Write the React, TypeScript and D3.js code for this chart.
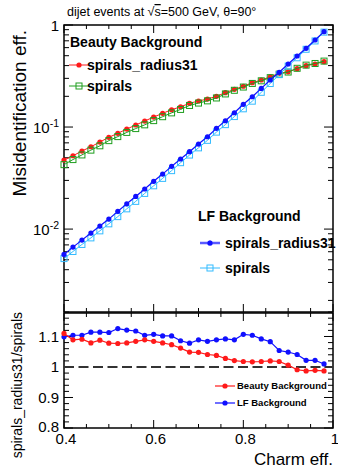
import * as d3 from 'd3';
import * as React from 'react';

const charmEff = [0.4, 0.42, 0.44, 0.46, 0.48, 0.5, 0.52, 0.54, 0.56, 0.58, 0.6, 0.62, 0.64, 0.66, 0.68, 0.7, 0.72, 0.74, 0.76, 0.78, 0.8, 0.82, 0.84, 0.86, 0.88, 0.9, 0.92, 0.94, 0.96, 0.98];

const beautyRadius31 = [0.0475, 0.0523, 0.0582, 0.0641, 0.0713, 0.0793, 0.0868, 0.0956, 0.1047, 0.1145, 0.1253, 0.1363, 0.1478, 0.158, 0.1708, 0.18, 0.188, 0.2, 0.217, 0.234, 0.251, 0.272, 0.289, 0.311, 0.336, 0.348, 0.373, 0.399, 0.415, 0.437];
const beautySpirals = [0.0428, 0.048, 0.0533, 0.0594, 0.0655, 0.0736, 0.0806, 0.0886, 0.0966, 0.1051, 0.1156, 0.1263, 0.1377, 0.1488, 0.1628, 0.1718, 0.1806, 0.1927, 0.2111, 0.2292, 0.2466, 0.2675, 0.2839, 0.3049, 0.3301, 0.3459, 0.3764, 0.4043, 0.4196, 0.4428];
const lfRadius31 = [0.00565, 0.00666, 0.0078, 0.00914, 0.0107, 0.01253, 0.01492, 0.0177, 0.0209, 0.0247, 0.0294, 0.0346, 0.0412, 0.0486, 0.0573, 0.0681, 0.0803, 0.0971, 0.1153, 0.138, 0.167, 0.198, 0.239, 0.289, 0.344, 0.415, 0.497, 0.591, 0.713, 0.86];
const lfSpirals = [0.00514, 0.00603, 0.00707, 0.0082, 0.00961, 0.01126, 0.01325, 0.01579, 0.01869, 0.02237, 0.02656, 0.0314, 0.03739, 0.04475, 0.05315, 0.06253, 0.07408, 0.08916, 0.1056, 0.1267, 0.1509, 0.1793, 0.2189, 0.2669, 0.3264, 0.3956, 0.4774, 0.5783, 0.6977, 0.8515];

const beautyRatio = [1.11, 1.089, 1.091, 1.079, 1.088, 1.078, 1.077, 1.079, 1.084, 1.089, 1.084, 1.079, 1.073, 1.062, 1.049, 1.048, 1.041, 1.038, 1.028, 1.021, 1.018, 1.017, 1.018, 1.02, 1.018, 1.006, 0.991, 0.987, 0.989, 0.987];
const lfRatio = [1.099, 1.104, 1.104, 1.114, 1.114, 1.113, 1.126, 1.121, 1.118, 1.104, 1.107, 1.102, 1.102, 1.086, 1.078, 1.089, 1.084, 1.089, 1.092, 1.089, 1.107, 1.104, 1.092, 1.083, 1.054, 1.049, 1.041, 1.022, 1.022, 1.01];

const xTicks = [0.4, 0.6, 0.8, 1];
const xTickLabels = ['0.4', '0.6', '0.8', '1'];
const ratioTicks = [0.8, 0.9, 1, 1.1];
const ratioTickLabels = ['0.8', '0.9', '1', '1.1'];
const logTicks = [1, 0.1, 0.01];

const FONT = '"Liberation Sans", Arial, Helvetica, sans-serif';

const App = () => {
  const ref = React.useRef<SVGSVGElement | null>(null);

  React.useEffect(() => {
    if (!ref.current) return;
    const svg = d3.select(ref.current);
    svg.selectAll('*').remove();

    const left = 64;
    const right = 333;
    const top = { y0: 25, y1: 312 };
    const bot = { y0: 313, y1: 428 };

    const x = d3.scaleLinear().domain([0.4, 1]).range([left, right]);
    const yLog = d3.scaleLog().domain([0.00154, 1]).range([top.y1, top.y0]);
    const yRatio = d3.scaleLinear().domain([0.8, 1.177]).range([bot.y1, bot.y0]);

    const g = svg.append('g').style('font-family', FONT);

    // frames
    [top, bot].forEach((p) => {
      g.append('rect')
        .attr('x', left)
        .attr('y', p.y0)
        .attr('width', right - left)
        .attr('height', p.y1 - p.y0)
        .attr('fill', 'none')
        .attr('stroke', '#000')
        .attr('stroke-width', 1.5);
    });

    // x ticks, both pads, top and bottom edges
    const xMinor = d3.range(0.4, 1.0001, 0.05);
    [top, bot].forEach((p) => {
      xMinor.forEach((v) => {
        const major = xTicks.some((t) => Math.abs(t - v) < 1e-6);
        const len = major ? 8 : 4;
        const px = x(v);
        g.append('line').attr('x1', px).attr('x2', px).attr('y1', p.y1).attr('y2', p.y1 - len).attr('stroke', '#000');
        g.append('line').attr('x1', px).attr('x2', px).attr('y1', p.y0).attr('y2', p.y0 + len).attr('stroke', '#000');
      });
    });

    // log y ticks
    const logMinor: number[] = [];
    [0.001, 0.01, 0.1].forEach((dec) => {
      for (let k = 1; k <= 9; k++) logMinor.push(dec * k);
    });
    logMinor.push(1);
    logMinor
      .filter((v) => v >= 0.00154 && v <= 1.0001)
      .forEach((v) => {
        const major = logTicks.some((t) => Math.abs(t - v) < 1e-9);
        const len = major ? 9 : 5;
        const py = yLog(v);
        g.append('line').attr('x1', left).attr('x2', left + len).attr('y1', py).attr('y2', py).attr('stroke', '#000');
        g.append('line').attr('x1', right).attr('x2', right - len).attr('y1', py).attr('y2', py).attr('stroke', '#000');
      });

    // ratio y ticks
    d3.range(0.8, 1.1801, 0.02).forEach((v) => {
      const major = ratioTicks.some((t) => Math.abs(t - v) < 1e-6);
      const len = major ? 9 : 5;
      const py = yRatio(v);
      g.append('line').attr('x1', left).attr('x2', left + len).attr('y1', py).attr('y2', py).attr('stroke', '#000');
      g.append('line').attr('x1', right).attr('x2', right - len).attr('y1', py).attr('y2', py).attr('stroke', '#000');
    });

    // log tick labels
    g.append('text').attr('x', 59).attr('y', yLog(1) + 6).attr('text-anchor', 'end').attr('font-size', 15).text('1');
    [
      [0.1, '-1'],
      [0.01, '-2'],
    ].forEach(([v, ex]) => {
      const t = g
        .append('text')
        .attr('x', 59)
        .attr('y', yLog(v as number) + 6)
        .attr('text-anchor', 'end')
        .attr('font-size', 15);
      t.append('tspan').text('10');
      t.append('tspan').attr('dy', -6).attr('font-size', 10.5).text(ex as string);
    });

    // ratio tick labels
    ratioTicks.forEach((v, i) => {
      g.append('text')
        .attr('x', 59)
        .attr('y', yRatio(v) + (v === 0.8 ? 3.5 : 5.5))
        .attr('text-anchor', 'end')
        .attr('font-size', 15)
        .text(ratioTickLabels[i]);
    });

    // x tick labels
    xTicks.forEach((v, i) => {
      g.append('text')
        .attr('x', x(v) + 2)
        .attr('y', 444)
        .attr('text-anchor', 'middle')
        .attr('font-size', 15)
        .text(xTickLabels[i]);
    });

    // axis titles
    g.append('text').attr('x', 333).attr('y', 465).attr('text-anchor', 'end').attr('font-size', 17).text('Charm eff.');
    g.append('text')
      .attr('transform', 'translate(26,30) rotate(-90)')
      .attr('text-anchor', 'end')
      .attr('font-size', 19)
      .text('Misidentification eff.');
    g.append('text')
      .attr('transform', 'translate(22,312) rotate(-90)')
      .attr('text-anchor', 'end')
      .attr('font-size', 14)
      .text('spirals_radius31/spirals');

    // title
    const title = g.append('text').attr('x', 67).attr('y', 16).attr('font-size', 12.5);
    title.append('tspan').text('dijet events at ');
    title.append('tspan').text('\u221A');
    title.append('tspan').style('text-decoration', 'overline').text('s');
    title.append('tspan').text('=500 GeV, \u03B8=90\u00B0');

    const drawMarker = (cx: number, cy: number, color: string, marker: 'circle' | 'square') => {
      if (marker === 'circle') {
        g.append('circle').attr('cx', cx).attr('cy', cy).attr('r', 2.6).attr('fill', color);
      } else {
        g.append('rect')
          .attr('x', cx - 3)
          .attr('y', cy - 3)
          .attr('width', 6)
          .attr('height', 6)
          .attr('fill', 'none')
          .attr('stroke', color)
          .attr('stroke-width', 1);
      }
    };

    const drawSeries = (
      vals: number[],
      y: (v: number) => number,
      color: string,
      marker: 'circle' | 'square',
      lw: number,
    ) => {
      const line = d3
        .line<number>()
        .x((_, i) => x(charmEff[i]))
        .y((d) => y(d));
      g.append('path').attr('d', line(vals)).attr('fill', 'none').attr('stroke', color).attr('stroke-width', lw);
      vals.forEach((d, i) => drawMarker(x(charmEff[i]), y(d), color, marker));
    };

    const red = '#ff1a1a';
    const green = '#1e9e1e';
    const blue = '#1010ff';
    const cyan = '#33bbff';

    drawSeries(beautyRadius31, yLog, red, 'circle', 1);
    drawSeries(beautySpirals, yLog, green, 'square', 1);
    drawSeries(lfSpirals, yLog, cyan, 'square', 1);
    drawSeries(lfRadius31, yLog, blue, 'circle', 1.2);

    const legItem = (lx: number, ly: number, color: string, marker: 'circle' | 'square', label: string, lw: number, fs: number, tx: number) => {
      g.append('line').attr('x1', lx).attr('x2', lx + 20).attr('y1', ly).attr('y2', ly).attr('stroke', color).attr('stroke-width', lw);
      drawMarker(lx + 10, ly, color, marker);
      g.append('text')
        .attr('x', tx)
        .attr('y', ly + fs * 0.36)
        .attr('font-size', fs)
        .attr('font-weight', 'bold')
        .text(label);
    };

    // upper legends
    g.append('text').attr('x', 70).attr('y', 47).attr('font-size', 14).attr('font-weight', 'bold').text('Beauty Background');
    legItem(69, 65, red, 'circle', 'spirals_radius31', 1, 14, 87);
    legItem(69, 86, green, 'square', 'spirals', 1, 14, 87);

    g.append('text').attr('x', 198).attr('y', 221).attr('font-size', 14).attr('font-weight', 'bold').text('LF Background');
    legItem(200, 243, '#5a5aff', 'circle', 'spirals_radius31', 2.5, 14, 225);
    g.append('circle').attr('cx', 210).attr('cy', 243).attr('r', 2.6).attr('fill', blue);
    legItem(200, 268, cyan, 'square', 'spirals', 1, 14, 225);

    // ratio pad
    g.append('line')
      .attr('x1', left)
      .attr('x2', right)
      .attr('y1', yRatio(1))
      .attr('y2', yRatio(1))
      .attr('stroke', '#333')
      .attr('stroke-width', 2)
      .attr('stroke-dasharray', '10,4.5');

    drawSeries(lfRatio, yRatio, blue, 'circle', 1.2);
    drawSeries(beautyRatio, yRatio, red, 'circle', 1.2);

    legItem(215, 386, red, 'circle', 'Beauty Background', 1.2, 9.5, 237);
    legItem(215, 403, blue, 'circle', 'LF Background', 1.2, 9.5, 237);
  }, []);

  return <svg ref={ref} width={338} height={472} style={{ position: 'absolute', left: 0, top: 0, background: '#fff' }} />;
};

export default App;
